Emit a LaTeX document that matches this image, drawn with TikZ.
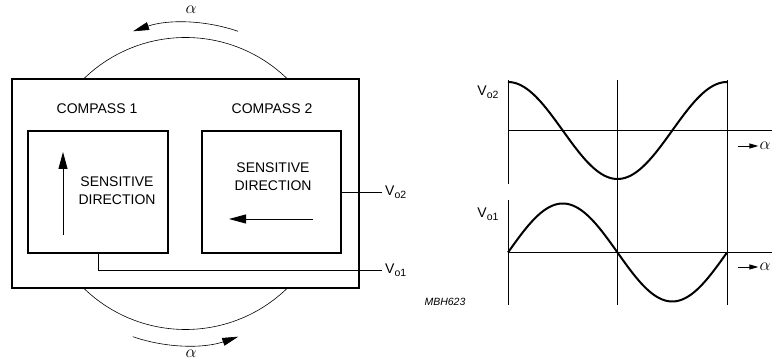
\documentclass[tikz,border=0pt]{standalone}
\usepackage{fontspec}
\setmainfont{Liberation Sans}
\usetikzlibrary{arrows.meta, positioning}

\newcommand{\outsig}[1]{V\raisebox{-3.5pt}{\fontsize{10.5}{12}\selectfont o#1}}

\begin{document}
\begin{tikzpicture}[x=1pt, y=1pt,
    box/.style={draw, line width=1.6pt, inner sep=0pt, outer sep=0pt},
    lbl/.style={font=\fontsize{14}{18}\selectfont, align=center},
    anglbl/.style={font=\fontsize{16}{18}\selectfont},
    thinline/.style={line width=0.6pt},
    wire/.style={line width=0.9pt},
    dirarrow/.style={line width=0.9pt, -{Triangle[length=17pt, width=9pt]}},
    rotarrow/.style={line width=0.6pt, -{Triangle[length=16pt, width=8pt]}},
    wave/.style={line width=2pt, line join=round},
    axisline/.style={line width=0.9pt},
    alphaarrow/.style={line width=0.9pt, -{Triangle[length=9pt, width=5pt]}}]

    \useasboundingbox (0,0) rectangle (772,361);

    % sensor with the two compasses
    \node[box, minimum width=347, minimum height=209] (unit) at (185.5,177.5) {};
    \node[box, minimum width=140, minimum height=122] (c1) at (98,169) {};
    \node[box, minimum width=139, minimum height=122] (c2) at (271.5,169) {};
    \node[lbl] (t1) at (97,252) {COMPASS 1};
    \node[lbl] (t2) at (272,252) {COMPASS 2};
    \node[lbl] (s1) at (117,170) {SENSITIVE\\DIRECTION};
    \node[lbl] (s2) at (273,184) {SENSITIVE\\DIRECTION};
    \draw[dirarrow] (63,126) -- (63,209);
    \draw[dirarrow] (313,142) -- (229,142);

    % rotation
    \draw[thinline] (unit.center) ++(46:146) arc[start angle=46, end angle=134, radius=146];
    \draw[thinline] (unit.center) ++(-46:146) arc[start angle=-46, end angle=-134, radius=146];
    \draw[rotarrow] (unit.center) ++(71:161) arc[start angle=71, end angle=109, radius=161];
    \draw[rotarrow] (unit.center) ++(251:162) arc[start angle=251, end angle=289, radius=162];
    \node[anglbl] (atop) at (191,351) {$\alpha$};
    \node[anglbl] (abot) at (191,7) {$\alpha$};

    % outputs
    \node[lbl, anchor=west, inner sep=3pt] (vo2) at (382,169) {\outsig{2}};
    \node[lbl, anchor=west, inner sep=3pt] (vo1) at (382,91) {\outsig{1}};
    \draw[wire] (c2.east) -- (vo2.west);
    \draw[wire] (c1.south) |- (vo1.west);
    \node[font=\fontsize{10.5}{12}\selectfont\itshape] (code) at (445,59) {MBH623};

    % output signals
    \draw[axisline] (508,281) -- (508,177);
    \draw[axisline] (508,161) -- (508,56);
    \draw[axisline] (617,281) -- (617,56);
    \draw[axisline] (727,281) -- (727,56);
    \draw[axisline] (508,230.5) -- (772,230.5);
    \draw[axisline] (508,108.5) -- (772,108.5);
    \draw[wave] plot[domain=0:360, samples=120] ({508+\x*0.60833}, {230.5+48.5*cos(\x)});
    \draw[wave] plot[domain=0:360, samples=120] ({508+\x*0.60833}, {108.5+49*sin(\x)});
    \node[lbl, anchor=east] (g2) at (502,269) {\outsig{2}};
    \node[lbl, anchor=east] (g1) at (502,147) {\outsig{1}};
    \node[anglbl, inner sep=1pt] (ax2) at (765,215) {$\alpha$};
    \node[anglbl, inner sep=1pt] (ax1) at (765,94) {$\alpha$};
    \draw[alphaarrow] ([xshift=-20]ax2.west) -- (ax2.west);
    \draw[alphaarrow] ([xshift=-20]ax1.west) -- (ax1.west);
\end{tikzpicture}
\end{document}
